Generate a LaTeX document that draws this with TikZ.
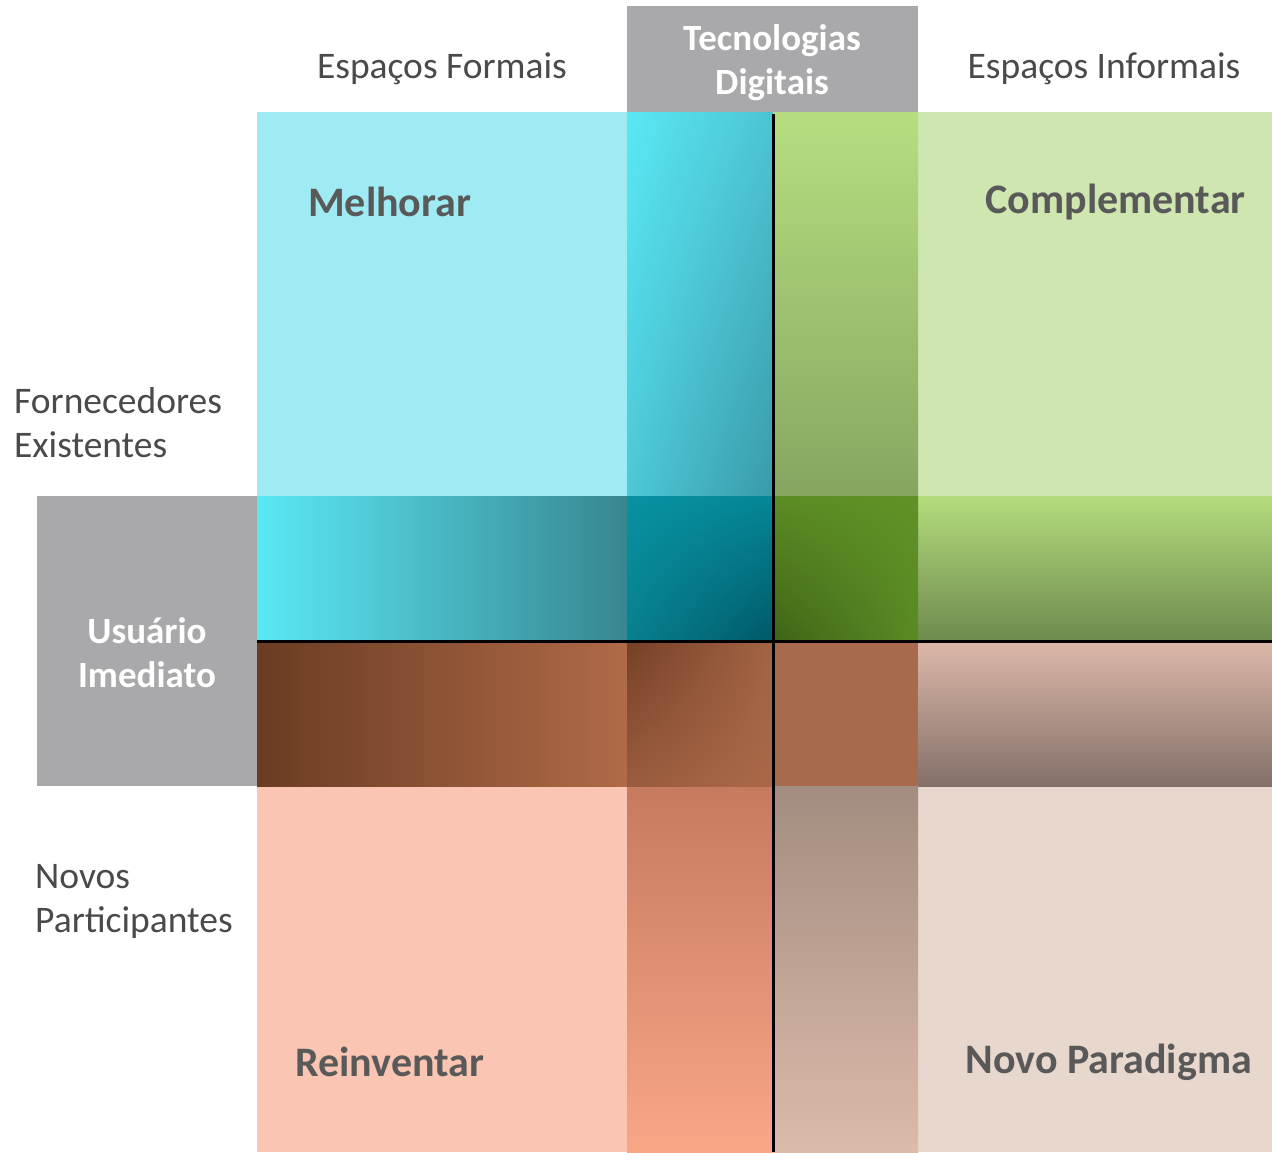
\documentclass[tikz,border=0pt]{standalone}
\usepackage{fontspec}
\usetikzlibrary{shadings}
\setmainfont{Carlito}
\definecolor{cyanL}{HTML}{9EEBF3}
\definecolor{greenL}{HTML}{CFE6B0}
\definecolor{salmonL}{HTML}{FAC5B2}
\definecolor{beigeL}{HTML}{E8D7CC}
\definecolor{boxgray}{HTML}{A9A8AB}
\definecolor{labgray}{HTML}{4A4A4A}
\definecolor{boldgray}{HTML}{595959}
% vertical band colours
\definecolor{vA1}{HTML}{5AE8F5}\definecolor{vA2}{HTML}{4CC4D2}\definecolor{vA3}{HTML}{4CC8D6}\definecolor{vA4}{HTML}{3A9AAA}
\definecolor{vB1}{HTML}{B6DE80}\definecolor{vB2}{HTML}{86A660}
\definecolor{vC1}{HTML}{C67A5E}\definecolor{vC2}{HTML}{F9A687}
\definecolor{vD1}{HTML}{A38C80}\definecolor{vD2}{HTML}{DBBBA9}
% horizontal band colours
\definecolor{hA1}{HTML}{5AE8F5}\definecolor{hA2}{HTML}{37868F}
\definecolor{hB1}{HTML}{B4DC7C}\definecolor{hB2}{HTML}{6E8A4E}
\definecolor{hC1}{HTML}{6A3C22}\definecolor{hC2}{HTML}{B06A48}
\definecolor{hD1}{HTML}{DDB9A9}\definecolor{hD2}{HTML}{84706A}
% centre colours
\definecolor{cA1}{HTML}{0892A2}\definecolor{cA2}{HTML}{058696}\definecolor{cA3}{HTML}{07808E}\definecolor{cA4}{HTML}{005868}
\definecolor{cB1}{HTML}{5C8C24}\definecolor{cB2}{HTML}{5E9226}\definecolor{cB3}{HTML}{3E6416}\definecolor{cB4}{HTML}{5A8A24}
\definecolor{cC1}{HTML}{764026}\definecolor{cC2}{HTML}{A36444}\definecolor{cC3}{HTML}{9A5C3E}\definecolor{cC4}{HTML}{AA6848}
\definecolor{cD}{HTML}{A86A4C}
\begin{document}
\begin{tikzpicture}[x=1pt,y=-1pt,
  lab/.style={inner sep=0pt,text=labgray,font=\fontsize{37.5}{44}\selectfont,align=left},
  bigl/.style={inner sep=0pt,text=boldgray,font=\fontsize{42}{44}\selectfont\bfseries},
  whl/.style={inner sep=0pt,text=white,font=\fontsize{37}{44}\selectfont\bfseries,align=center}]
\useasboundingbox (0,0) rectangle (1272,1152);
\fill[white] (0,0) rectangle (1272,1152);
% light quadrants
\fill[cyanL] (257,112) rectangle (773,641);
\fill[greenL] (773,112) rectangle (1272,641);
\fill[salmonL] (257,641) rectangle (773,1152);
\fill[beigeL] (773,641) rectangle (1272,1152);
% vertical band
\shade[upper left=vA1, upper right=vA2, lower left=vA3, lower right=vA4] (627,112) rectangle (773,496);
\shade[top color=vB1, bottom color=vB2] (773,112) rectangle (918,496);
\shade[top color=vC1, bottom color=vC2] (627,786) rectangle (773,1152);
\shade[top color=vD1, bottom color=vD2] (773,786) rectangle (918,1152);
% horizontal band
\shade[left color=hA1, right color=hA2] (257,496) rectangle (627,641);
\shade[top color=hB1, bottom color=hB2] (918,496) rectangle (1272,641);
\shade[left color=hC1, right color=hC2] (257,641) rectangle (627,786);
\shade[top color=hD1, bottom color=hD2] (918,641) rectangle (1272,786);
% centre squares
\shade[upper left=cA1, upper right=cA2, lower left=cA3, lower right=cA4] (627,496) rectangle (773,641);
\shade[upper left=cB1, upper right=cB2, lower left=cB3, lower right=cB4] (773,496) rectangle (918,641);
\shade[upper left=cC1, upper right=cC2, lower left=cC3, lower right=cC4] (627,641) rectangle (773,786);
\fill[cD] (773,641) rectangle (918,786);
% gray header boxes
\fill[boxgray] (627,6) rectangle (918,112);
\fill[boxgray] (37,496) rectangle (257,786);
% divider lines
\draw[line width=3pt] (773,114) -- (773,1152);
\draw[line width=3pt] (257,641) -- (1272,641);
% labels
\node[whl] (tec) at (772,63) {Tecnologias\\Digitais};
\node[whl] (usu) at (147,653) {Usuário\\Imediato};
\node[lab] (ef) at (442,69) {Espaços Formais};
\node[lab] (ei) at (1104,69) {Espaços Informais};
\node[lab,anchor=west] (fe) at (14,423) {Fornecedores\\Existentes};
\node[lab,anchor=west] (np) at (35,901) {Novos\\Participantes};
\node[bigl,anchor=west] (mel) at (308,202) {Melhorar};
\node[bigl,anchor=east] (com) at (1246,202) {Complementar};
\node[bigl,anchor=west] (rei) at (295,1062) {Reinventar};
\node[bigl,anchor=east] (nov) at (1252,1062) {Novo Paradigma};
\end{tikzpicture}
\end{document}
